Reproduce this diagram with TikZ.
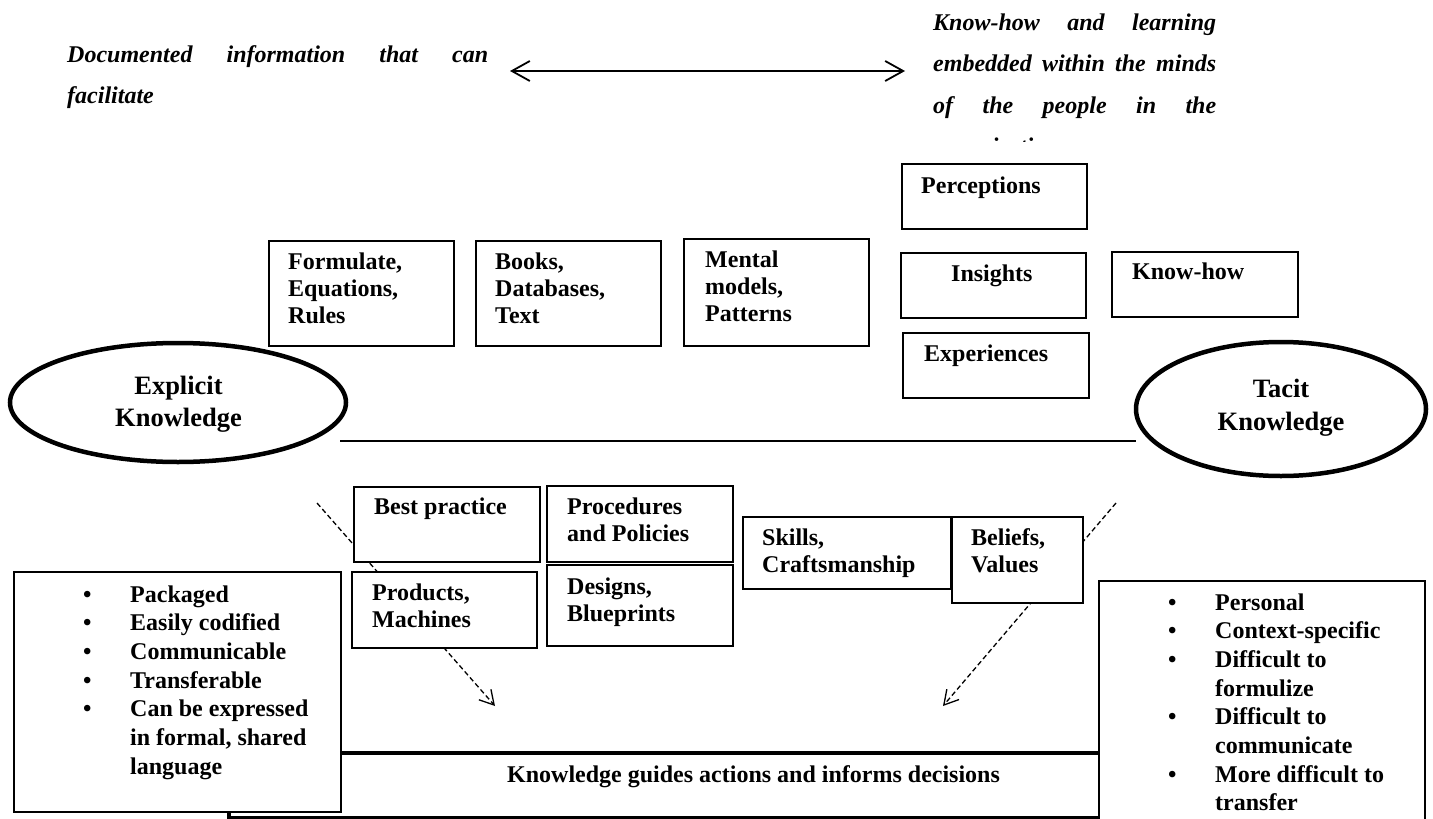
\documentclass[tikz,border=0pt]{standalone}
\usepackage{fontspec}
\setmainfont{Liberation Serif}
\usetikzlibrary{shapes.geometric,arrows.meta}
\newcommand\kbul{\makebox[47pt][l]{\textbullet}}
\newcommand\kind{\hspace*{47pt}}
\tikzset{
 kbox/.style={draw, line width=1.8pt, fill=white, anchor=north west, inner sep=0pt},
 klbl/.style={anchor=base west, inner sep=0pt, align=left, font=\fontsize{24}{27.3}\selectfont\bfseries},
 klist/.style={anchor=base west, inner sep=0pt, align=left, font=\fontsize{24}{28.7}\selectfont\bfseries},
 kell/.style={draw, ellipse, line width=4.5pt, fill=white, inner sep=0pt},
 kelltext/.style={inner sep=0pt, align=center, font=\fontsize{26.5}{32.5}\selectfont\bfseries},
 kpara/.style={anchor=base west, inner sep=0pt, align=left, font=\fontsize{24}{41.3}\selectfont\bfseries\itshape},
 kdash/.style={line width=1.3pt, dash pattern=on 5pt off 3pt, -{Straight Barb[length=14pt,width=16pt,line width=1.3pt]}},
 kdbl/.style={line width=1.8pt, {Straight Barb[length=18pt,width=20pt]}-{Straight Barb[length=18pt,width=20pt]}},
 kline/.style={line width=2pt},
}
\begin{document}
\begin{tikzpicture}[x=1pt,y=-1pt]
\useasboundingbox (0,0) rectangle (1433,819);
\clip (0,0) rectangle (1433,819);
\fill[white] (0,0) rectangle (1433,819);

% top descriptions (anchor = baseline of the last line)
\node[kpara] (expdesc) at (67,103.3) {\makebox[421pt][s]{Documented information that can}\\facilitate};
\begin{scope}
\clip (890,0) rectangle (1240,141.5);
\node[kpara] (tacitdesc) at (933,154.5) {\makebox[283pt][s]{Know-how and learning}\\\makebox[283pt][s]{embedded within the minds}\\\makebox[283pt][s]{of the people in the}\\organization};
\end{scope}
\coordinate (al) at (510,71);
\coordinate (ar) at (905,71);
\draw[kdbl] (al) -- (ar);

% dashed arrows
\coordinate (dl1) at (317,503);
\coordinate (dl2) at (495,706);
\coordinate (dr1) at (1116,503);
\coordinate (dr2) at (943,706);
\draw[kdash] (dl1) -- (dl2);
\draw[kdash] (dr1) -- (dr2);

% separator
\coordinate (sl) at (340,441);
\coordinate (sr) at (1136,441);
\draw[kline] (sl) -- (sr);

% upper boxes
\node[kbox, minimum width=185pt, minimum height=105pt] (formulate) at (268,240) {};
\node[klbl] (formulatet) at (288,323.6) {Formulate,\\Equations,\\Rules};
\node[kbox, minimum width=185pt, minimum height=105pt] (books) at (475,240) {};
\node[klbl] (bookst) at (495,323.6) {Books,\\Databases,\\Text};
\node[kbox, minimum width=185pt, minimum height=107pt] (mental) at (683,238) {};
\node[klbl] (mentalt) at (705,321.6) {Mental\\models,\\Patterns};
\node[kbox, minimum width=185pt, minimum height=65pt] (perc) at (901,163) {};
\node[klbl] (perct) at (921,193) {Perceptions};
\node[kbox, minimum width=185pt, minimum height=65pt] (insights) at (900,252) {};
\node[klbl] (insightst) at (951,281) {Insights};
\node[kbox, minimum width=186pt, minimum height=65pt] (knowhow) at (1111,251) {};
\node[klbl] (knowhowt) at (1132,279) {Know-how};
\node[kbox, minimum width=186pt, minimum height=65pt] (exper) at (902,332) {};
\node[klbl] (expert) at (924,361) {Experiences};

% ellipses
\node[kell, minimum width=336pt, minimum height=119pt] (explicit) at (178,402.5) {};
\node[kelltext] (explicitt) at (178.5,404) {Explicit\\Knowledge};
\node[kell, minimum width=290pt, minimum height=134pt] (tacit) at (1281,409) {};
\node[kelltext] (tacitt) at (1281,407.5) {Tacit\\Knowledge};

% lower boxes
\node[kbox, minimum width=186pt, minimum height=75pt] (best) at (353,486) {};
\node[klbl] (bestt) at (374,514) {Best practice};
\node[kbox, minimum width=185pt, minimum height=76pt] (products) at (351,571) {};
\node[klbl] (productst) at (372,627.3) {Products,\\Machines};
\node[kbox, minimum width=186pt, minimum height=76pt] (procedures) at (546,485) {};
\node[klbl] (procedurest) at (567,541.3) {Procedures\\and Policies};
\node[kbox, minimum width=186pt, minimum height=81pt] (designs) at (546,564) {};
\node[klbl] (designst) at (567,621.3) {Designs,\\Blueprints};
\node[kbox, minimum width=208pt, minimum height=72pt] (skills) at (742,516) {};
\node[klbl] (skillst) at (762,572.3) {Skills,\\Craftsmanship};
\node[kbox, minimum width=131pt, minimum height=86pt] (beliefs) at (951,516) {};
\node[klbl] (beliefst) at (971,572.3) {Beliefs,\\Values};

% bottom box
\node[kbox, line width=4pt, minimum width=871pt, minimum height=65pt] (guide) at (227,751) {};
\node[klbl] (guidet) at (507,782) {Knowledge guides actions and informs decisions};

% list boxes
\node[kbox, minimum width=327pt, minimum height=240pt] (leftlist) at (13,571) {};
\node[klist] (leftlistt) at (83,774.2) {\kbul Packaged\\\kbul Easily codified\\\kbul Communicable\\\kbul Transferable\\\kbul Can be expressed\\\kind in formal, shared\\\kind language};
\node[kbox, minimum width=326pt, minimum height=260pt] (rightlist) at (1098,580) {};
\node[klist] (rightlistt) at (1168,810.9) {\kbul Personal\\\kbul Context-specific\\\kbul Difficult to\\\kind formulize\\\kbul Difficult to\\\kind communicate\\\kbul More difficult to\\\kind transfer};
\end{tikzpicture}
\end{document}
